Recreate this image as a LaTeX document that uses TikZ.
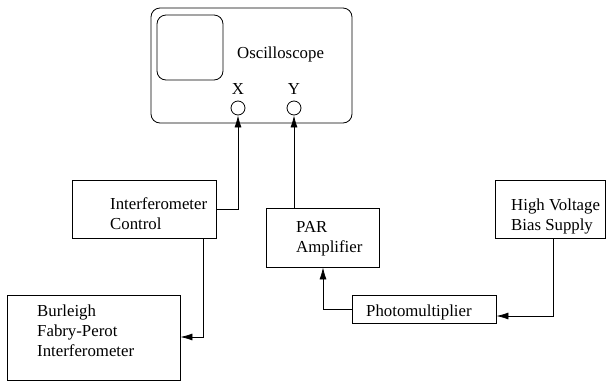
\documentclass[tikz,border=0pt]{standalone}
\usepackage{fontspec}
\setmainfont{Liberation Serif}
\usetikzlibrary{arrows.meta}
\begin{document}
\begin{tikzpicture}[x=1pt,y=-1pt,
  box/.style={draw, line width=0.8pt, inner sep=0pt},
  lbl/.style={font=\fontsize{16.8}{20}\selectfont, inner sep=0pt, align=left},
  arr/.style={line width=0.8pt, -{Latex[length=12pt,width=7pt]}},
  port/.style={draw, circle, line width=0.8pt, minimum size=14pt, inner sep=0pt}]
\useasboundingbox (0,0) rectangle (606,381);
% oscilloscope
\draw[line width=0.8pt, rounded corners=9pt] (151,8) rectangle (352,123);
\draw[line width=0.8pt, rounded corners=9pt] (157,15) rectangle (223,80);
\node[lbl, anchor=base west] (osct) at (237,58) {Oscilloscope};
\node[lbl, anchor=base] (xl) at (238,94) {X};
\node[lbl, anchor=base] (yl) at (294,94) {Y};
\node[port] (cx) at (238,108) {};
\node[port] (cy) at (294,108) {};
% boxes (text nodes anchored at the baseline of their last line)
\node[box, minimum width=144pt, minimum height=58pt] (ic) at (144,209) {};
\node[lbl, anchor=base west] (ict) at (110,229) {Interferometer\\Control};
\node[box, minimum width=173pt, minimum height=85pt] (bfp) at (93.5,337.5) {};
\node[lbl, anchor=base west] (bfpt) at (37,356) {Burleigh\\Fabry-Perot\\Interferometer};
\node[box, minimum width=113pt, minimum height=59pt] (par) at (322.5,237.5) {};
\node[lbl, anchor=base west] (part) at (296,252) {PAR\\Amplifier};
\node[box, minimum width=110pt, minimum height=58pt] (hv) at (550,209) {};
\node[lbl, anchor=base west] (hvt) at (511,230) {High Voltage\\Bias Supply};
\node[box, minimum width=144pt, minimum height=28pt] (pm) at (424,309) {};
\node[lbl, anchor=base west] (pmt) at (366,316) {Photomultiplier};
% connectors
\coordinate (c1) at (237,209);
\draw[arr] (ic.east |- c1) -| (cx.south);
\draw[arr] (par.north -| cy.south) -- (cy.south);
\coordinate (c2) at (203,337);
\draw[arr] (ic.south -| c2) |- (bfp.east |- c2);
\coordinate (c3) at (553,316);
\draw[arr] (hv.south -| c3) |- (pm.east |- c3);
\coordinate (c4) at (323,309);
\draw[arr] (pm.west |- c4) -| (par.south -| c4);
\end{tikzpicture}
\end{document}
